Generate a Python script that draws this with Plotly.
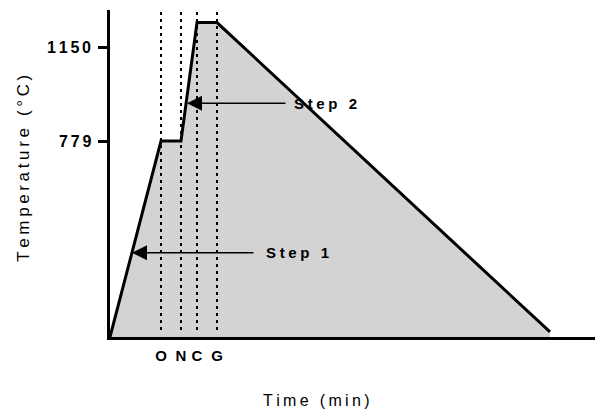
import plotly.graph_objects as go

# Heat-treatment schedule: time (min) vs temperature (°C)
time_pts = [0, 51, 71, 87, 107, 440]
temp_pts = [0, 779, 779, 1250, 1250, 20]

# Phase markers along the time axis
phase_labels = ["O", "N", "C", "G"]
phase_times = [51, 71, 87, 107]

# Temperature ticks
temp_ticks = [779, 1150]

# Arrow annotations: label, tip (time, temperature), tail time
step_labels = ["Step 1", "Step 2"]
step_tip_time = [22, 77]
step_tip_temp = [335, 929]
step_tail_time = [145, 177]

FONT = "Liberation Sans"
NUM_FONT = "Arial, Helvetica, sans-serif"
NBSP = "\u00a0"


def spaced(s, gap_px):
    # widen the letter spacing of a label with small non-breaking spaces
    gap = '<span style="font-size:%dpx">%s</span>' % (gap_px, NBSP)
    out = []
    for i, ch in enumerate(s):
        if i:
            out.append(gap)
        out.append(NBSP if ch == " " else ch)
    return "".join(out)


fig = go.Figure()

# shaded area under the schedule
fig.add_trace(go.Scatter(
    x=time_pts, y=temp_pts, mode="lines",
    line=dict(color="rgba(0,0,0,0)", width=0),
    fill="tozeroy", fillcolor="#d3d3d3",
    hoverinfo="skip", showlegend=False,
))

# dotted phase boundaries
for t in phase_times:
    fig.add_trace(go.Scatter(
        x=[t, t], y=[28, 1300], mode="lines",
        line=dict(color="black", width=2, dash="3px,4px"),
        hoverinfo="skip", showlegend=False,
    ))

# schedule outline
fig.add_trace(go.Scatter(
    x=time_pts, y=temp_pts, mode="lines",
    line=dict(color="black", width=3),
    showlegend=False,
))

annotations = []
text_gap = [9, 5]
for lab, tx, ty, ax, gap in zip(step_labels, step_tip_time, step_tip_temp,
                                step_tail_time, text_gap):
    annotations.append(dict(
        x=tx, y=ty, ax=ax, ay=ty, xref="x", yref="y", axref="x", ayref="y",
        text="", showarrow=True, arrowhead=2, arrowsize=2, arrowwidth=1.5,
        arrowcolor="black", standoff=0,
    ))
    annotations.append(dict(
        x=ax + gap, y=ty, xref="x", yref="y", xanchor="left", yanchor="middle",
        text="<b>" + spaced(lab, 13) + "</b>", showarrow=False,
        font=dict(family=FONT, size=15, color="black"),
    ))

# temperature tick labels, letter-spaced
for v in temp_ticks:
    annotations.append(dict(
        x=-0.036, y=v, xref="paper", yref="y", xanchor="right", yanchor="middle",
        text=spaced(str(v), 10), showarrow=False,
        font=dict(family=NUM_FONT, size=16, color="black", weight="bold"),
    ))

# axis titles
annotations.append(dict(
    x=0.425, y=-0.193, xref="paper", yref="paper", xanchor="center", yanchor="middle",
    text=spaced("Time (min)", 12), showarrow=False,
    font=dict(family=FONT, size=16, color="black"),
))
annotations.append(dict(
    x=-0.179, y=0.515, xref="paper", yref="paper", xanchor="center", yanchor="middle",
    text=spaced("Temperature (°C)", 13), showarrow=False, textangle=-90,
    font=dict(family=FONT, size=17, color="black"),
))

fig.update_layout(
    width=595, height=414,
    margin=dict(l=110, r=0, t=10, b=77),
    paper_bgcolor="white", plot_bgcolor="white",
    font=dict(family=FONT, color="black"),
    annotations=annotations,
    xaxis=dict(
        range=[0, 485], showgrid=False, zeroline=False,
        showline=True, linecolor="black", linewidth=3,
        tickvals=phase_times,
        ticktext=["<b>" + p + "</b>" for p in phase_labels],
        ticks="", ticklabelstandoff=3,
        tickfont=dict(family=FONT, size=15, color="black"),
        fixedrange=True,
    ),
    yaxis=dict(
        range=[0, 1300], showgrid=False, zeroline=False,
        showline=True, linecolor="black", linewidth=3,
        tickvals=temp_ticks, showticklabels=False,
        ticks="outside", ticklen=9, tickwidth=3, tickcolor="black",
        fixedrange=True,
    ),
)

fig.write_html("out.html")
